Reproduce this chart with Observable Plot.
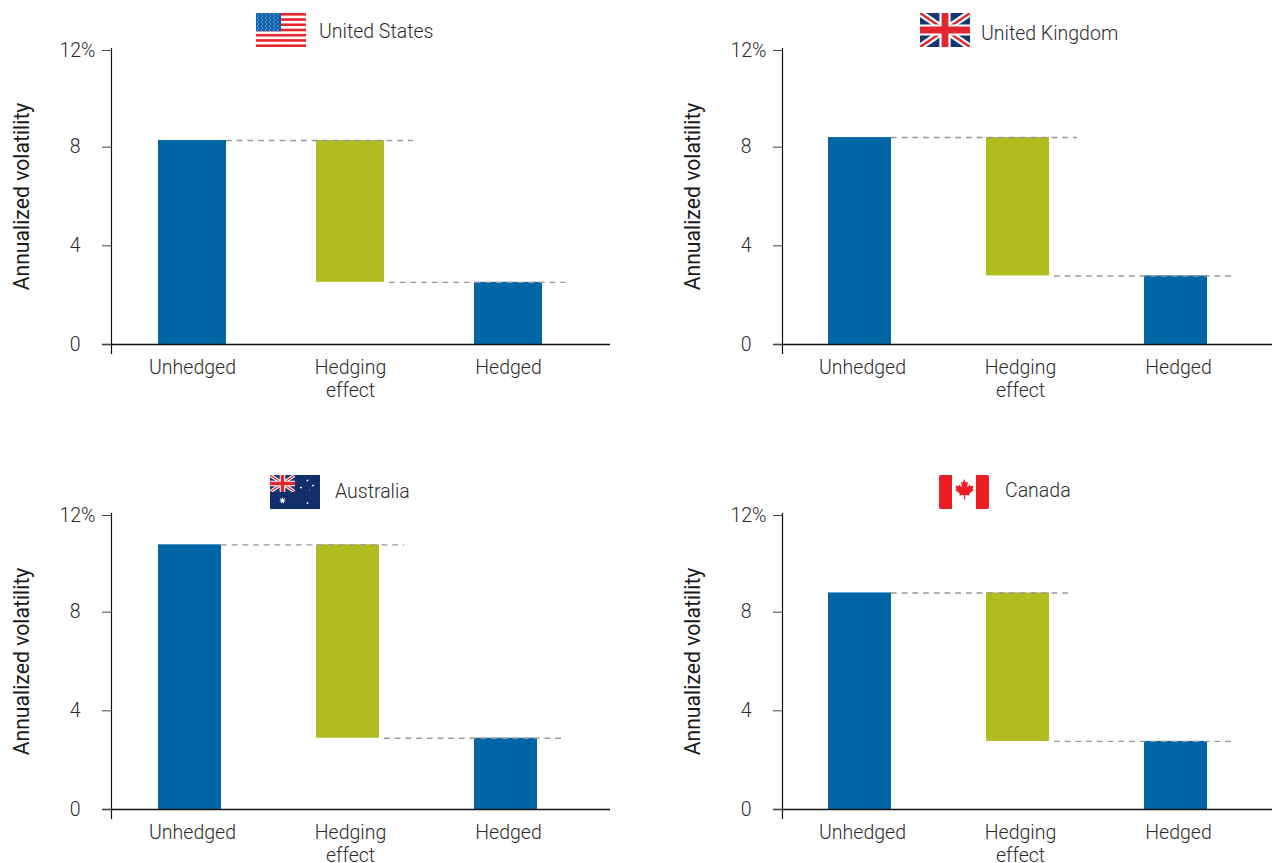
<!DOCTYPE html>
<html><head><meta charset="utf-8">
<script src="https://cdn.jsdelivr.net/npm/d3@7"></script>
<script src="https://cdn.jsdelivr.net/npm/@observablehq/plot@0.6"></script>
<style>
html,body{margin:0;padding:0;background:#fff}
#page{position:relative;width:1272px;height:863px;overflow:hidden;font-family:Roboto,sans-serif;font-weight:300;color:#333}
.panel{position:absolute}
.panel svg.plot{display:block;overflow:visible}
.flag{position:absolute;width:50px;height:34px}
.title{position:absolute;font-size:19.5px;line-height:20px;white-space:nowrap;color:#2b2b2b;opacity:.99}
</style></head><body><div id="page"></div>
<script>
const categories = ["Unhedged", "Hedging effect", "Hedged"];
const countries = ["United States", "United Kingdom", "Australia", "Canada"];
const unhedged = [8.27, 8.39, 10.73, 8.78];
const hedged = [2.52, 2.78, 2.89, 2.76];
const yTicks = [0, 4, 8];
const yTop = 12;

const blue = "#0066a6", green = "#b1bc1e";

const layouts = [
  {left:0,   top:0,   width:610, xRange:[113,587],     band:68, ext1:29, ext2:23.5, labelDx:0,   flagX:256, titleX:319, titleY:22},
  {left:671, top:0,   width:601, xRange:[109.5,583.5], band:63, ext1:28, ext2:25.5, labelDx:2.5, flagX:920, titleX:981, titleY:24},
  {left:0,   top:465, width:610, xRange:[110.5,584.5], band:63, ext1:25, ext2:25.5, labelDx:2.5, flagX:270, titleX:335, titleY:482},
  {left:671, top:465, width:601, xRange:[109.5,583.5], band:63, ext1:24, ext2:25.5, labelDx:2.5, flagX:939, titleX:1005,titleY:481}
];

const page = document.getElementById("page");

function stars(){let s="";for(let r=0;r<9;r++){const n=r%2?5:6;for(let c=0;c<n;c++){s+=`<circle cx="${(r%2?2.5:1.25)+c*4.1}" cy="${1+r*2}" r=".55" fill="#cfe0f2"/>`}}return s}
function usFlag(){let s=`<rect width="50" height="34" fill="#fff"/>`;for(let i=0;i<7;i++){s+=`<rect y="${i*2*34/13}" width="50" height="${34/13}" fill="#e8262e"/>`}
  return s+`<rect width="25" height="18.3" fill="#0f62ad"/>`+stars()}
function jack(w,h){return `<g>
<path d="M0 0L${w} ${h}M${w} 0L0 ${h}" stroke="#fff" stroke-width="${h*.2}"/>
<path d="M0 0L${w} ${h}M${w} 0L0 ${h}" stroke="#e1262d" stroke-width="${h*.07}"/>
<path d="M${w/2} 0V${h}M0 ${h/2}H${w}" stroke="#fff" stroke-width="${h*.33}"/>
<path d="M${w/2} 0V${h}M0 ${h/2}H${w}" stroke="#e1262d" stroke-width="${h*.2}"/></g>`}
function star(x,y,r,n=7){let p=[];for(let i=0;i<n*2;i++){const a=-Math.PI/2+i*Math.PI/n,R=i%2?r*.45:r;p.push((x+R*Math.cos(a)).toFixed(2)+","+(y+R*Math.sin(a)).toFixed(2))}return `<polygon points="${p.join(" ")}" fill="#fff"/>`}
const flags = {
 "United States": usFlag(),
 "United Kingdom": `<rect width="50" height="34" fill="#16376f"/>`+jack(50,34),
 "Australia": `<rect width="50" height="34" fill="#122f6b"/><svg width="25" height="17" viewBox="0 0 25 17"><rect width="25" height="17" fill="#16376f"/>${jack(25,17)}</svg>`+star(12.5,25.5,3.6)+star(37.5,5.5,1.4)+star(37.5,28,1.4)+star(31,12.5,1.4)+star(43,10.5,1.4)+star(39.5,15,.7,5),
 "Canada": `<rect width="50" height="34" rx="2" fill="#ed1c24"/><rect x="13" width="24" height="34" fill="#fff"/><path fill="#ed1c24" d="M25 4l2 3.8 2-1-.9 5.6 2.7-2.8.6 1.6 3.1-.6-1 3.5 1.3.7-4.6 3.9.5 1.7-4.6-.5.1 4.6h-1.4l.1-4.6-4.6.5.5-1.7-4.6-3.9 1.3-.7-1-3.5 3.1.6.6-1.6 2.7 2.8-.9-5.6 2 1z"/>`
};

countries.forEach((name, i) => {
  const L = layouts[i];
  const p = 1 - L.band / ((L.xRange[1] - L.xRange[0]) / 3);
  const rows = [
    {cat: categories[0], low: 0, high: unhedged[i], kind: "level"},
    {cat: categories[1], low: hedged[i], high: unhedged[i], kind: "effect"},
    {cat: categories[2], low: 0, high: hedged[i], kind: "level"}
  ];
  const dash = {stroke: "#999", strokeWidth: 1.4, strokeDasharray: "5.8 4.9"};
  const chart = Plot.plot({
    width: L.width, height: 398,
    marginLeft: 111, marginRight: 0, marginTop: 48, marginBottom: 45,
    style: {fontFamily: "Roboto, sans-serif", fontWeight: 300, background: "transparent", color: "#2b2b2b", overflow: "visible"},
    x: {domain: categories, range: L.xRange, paddingInner: p, paddingOuter: p / 2, axis: null},
    y: {domain: [0, yTop], range: [344, 48], axis: null},
    color: {domain: ["level", "effect"], range: [blue, green]},
    marks: [
      Plot.barY(rows, {x: "cat", y1: "low", y2: "high", fill: "kind"}),
      Plot.ruleY([unhedged[i]], {x1: () => categories[0], x2: () => categories[1], insetLeft: L.band, insetRight: -L.ext1, ...dash}),
      Plot.ruleY([hedged[i]], {x1: () => categories[1], x2: () => categories[2], insetLeft: L.band + 5, insetRight: -L.ext2, ...dash}),
      Plot.frame({anchor: "left", stroke: "#111", strokeWidth: 1.2}),
      Plot.ruleY([0], {insetLeft: -9, stroke: "#111", strokeWidth: 1.3}),
      Plot.axisY(yTicks, {anchor: "left", tickSize: 9, tickPadding: 22, fontSize: 19.5, label: null, stroke: "#444", fill: "#2b2b2b"}),
      Plot.axisY([yTop], {anchor: "left", tickSize: 9, tickPadding: 7, dy: 2, tickFormat: d => d + "%", fontSize: 19.5, label: null, stroke: "#444", fill: "#2b2b2b"}),
      Plot.axisX(categories, {anchor: "bottom", tickSize: 0, tickPadding: 4, dx: L.labelDx, tickFormat: d => d.replace(" ", "\n"), fontSize: 19.5, lineHeight: 1.18, label: null, fill: "#2b2b2b"}),
      Plot.text(["Annualized volatility"], {y: () => yTop / 2, frameAnchor: "left", textAnchor: "middle", dx: -89, rotate: -90, fontSize: 21.2, fontWeight: 400, fill: "#1a1a1a"})
    ]
  });
  const div = document.createElement("div");
  div.className = "panel";
  div.style.left = L.left + "px"; div.style.top = L.top + "px";
  chart.classList.add("plot");
  div.appendChild(chart);
  page.appendChild(div);

  const flag = document.createElementNS("http://www.w3.org/2000/svg", "svg");
  flag.setAttribute("class", "flag");
  flag.setAttribute("viewBox", "0 0 50 34");
  flag.style.left = L.flagX + "px";
  flag.style.top = (L.top ? 475 : 13) + "px";
  flag.innerHTML = flags[name];
  page.appendChild(flag);

  const t = document.createElement("div");
  t.className = "title";
  t.textContent = name;
  t.style.left = L.titleX + "px";
  t.style.top = L.titleY + "px";
  page.appendChild(t);
});
</script></body></html>
